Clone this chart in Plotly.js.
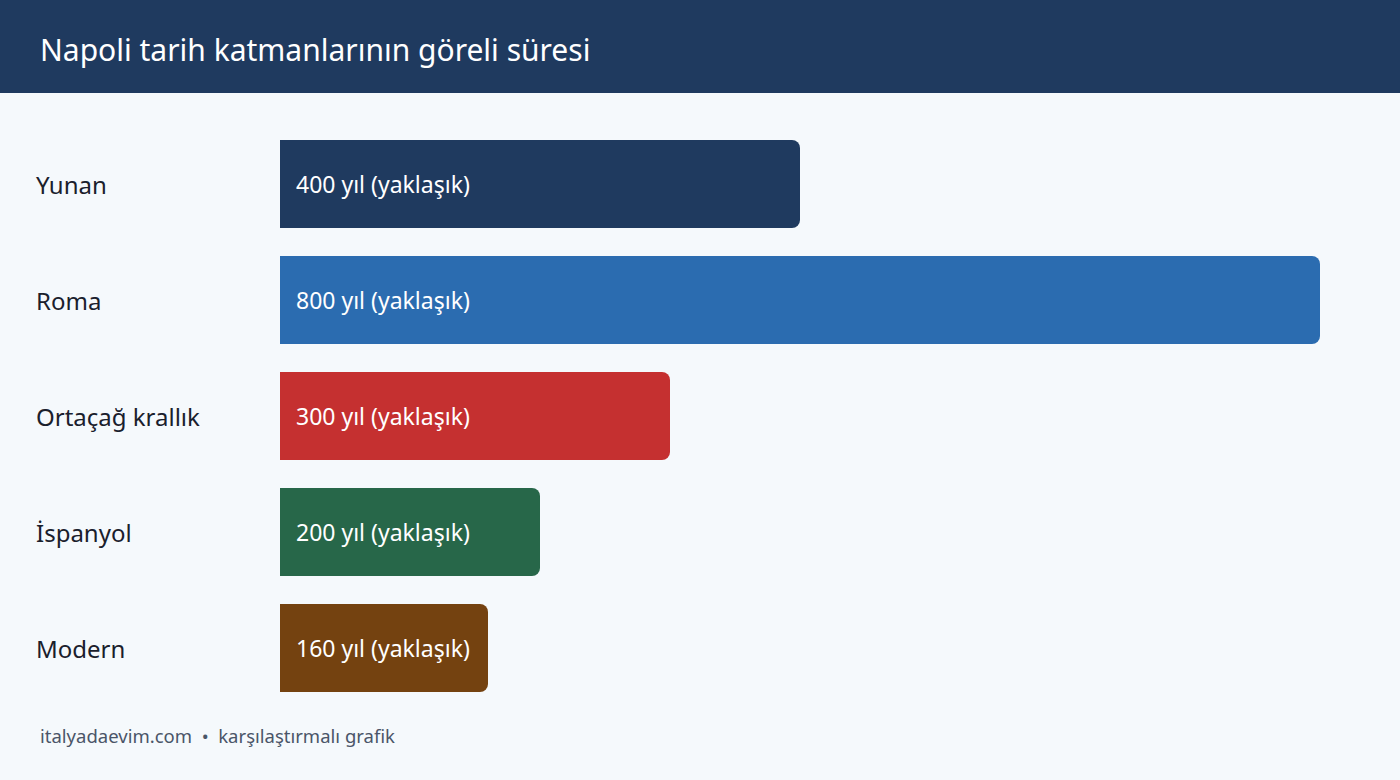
<!DOCTYPE html>
<html>
<head>
<meta charset="utf-8">
<script src="https://cdn.plot.ly/plotly-3.0.1.min.js"></script>
<style>
  html, body { margin: 0; padding: 0; background: #f5f9fc; overflow: hidden; }
  #chart { width: 1400px; height: 780px; }
</style>
</head>
<body>
<div id="chart"></div>
<script>
// Napoli history layers, approximate duration in years
const periods = ['Yunan', 'Roma', 'Ortaçağ krallık', 'İspanyol', 'Modern'];
const years = [400, 800, 300, 200, 160];
const barLabels = ['400 yıl (yaklaşık)', '800 yıl (yaklaşık)', '300 yıl (yaklaşık)', '200 yıl (yaklaşık)', '160 yıl (yaklaşık)'];
const barColors = ['#1f3a5f', '#2b6cb0', '#c53030', '#276749', '#744210'];

const FONT = 'Noto Sans, Open Sans, sans-serif';

const trace = {
    type: 'bar',
    orientation: 'h',
    x: years,
    y: periods,
    marker: { color: barColors },
    hoverinfo: 'skip',
};

// category names on the left, left aligned
const labelNotes = periods.map(p => ({
    text: p,
    x: -0.2182,
    xref: 'paper',
    xanchor: 'left',
    xshift: -8,
    y: p,
    yref: 'y',
    showarrow: false,
    font: { family: FONT, size: 24, color: '#1a202c' },
}));

// value text inside each bar
const valueNotes = barLabels.map((t, i) => ({
    text: t,
    x: 0,
    xref: 'x',
    xanchor: 'left',
    xshift: 14,
    y: periods[i],
    yref: 'y',
    showarrow: false,
    font: { family: FONT, size: 23, color: '#ffffff' },
}));

const footer = {
    text: 'italyadaevim.com  •  karşılaştırmalı grafik',
    x: -0.2147,
    xref: 'paper',
    xanchor: 'left',
    xshift: -8,
    y: -0.05,
    yref: 'paper',
    yanchor: 'middle',
    showarrow: false,
    font: { family: FONT, size: 18.5, color: '#4a5568' },
};

const layout = {
    width: 1400,
    height: 780,
    paper_bgcolor: '#f5f9fc',
    plot_bgcolor: '#f5f9fc',
    margin: { t: 126, l: 280, r: 28, b: 74 },
    showlegend: false,
    bargap: 0.24,
    barcornerradius: 8,
    title: {
        text: 'Napoli tarih katmanlarının göreli süresi',
        xref: 'container',
        x: 40 / 1400,
        xanchor: 'left',
        yref: 'container',
        y: 1 - 50 / 780,
        yanchor: 'middle',
        font: { family: FONT, size: 30, color: '#ffffff' },
    },
    xaxis: {
        range: [0, 840],
        visible: false,
        fixedrange: true,
    },
    yaxis: {
        autorange: 'reversed',
        showticklabels: false,
        showgrid: false,
        zeroline: false,
        fixedrange: true,
    },
    shapes: [{
        type: 'rect',
        xref: 'paper',
        yref: 'paper',
        x0: -0.27,
        x1: 1.05,
        y0: 1.0569,
        y1: 1.23,
        fillcolor: '#1f3a5f',
        line: { width: 0 },
        layer: 'below',
    }],
    annotations: [...labelNotes, ...valueNotes, footer],
};

Plotly.newPlot('chart', [trace], layout, { displayModeBar: false, staticPlot: true });
</script>
</body>
</html>
